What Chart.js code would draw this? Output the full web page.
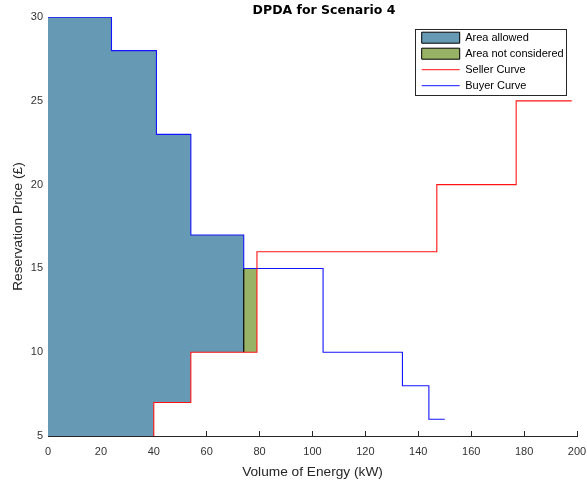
<!DOCTYPE html>
<html><head><meta charset="utf-8">
<script src="https://cdn.jsdelivr.net/npm/chart.js@4.4.1/dist/chart.umd.min.js"></script>
<style>html,body{margin:0;padding:0;background:#fff;}#wrap{position:relative;width:587px;height:485px;}</style>
</head><body><div id="wrap"><canvas id="c" width="587" height="485"></canvas></div>
<script>
// ---- data ----
const buyerVolume  = [0, 24, 41, 54, 74, 104, 134, 144, 150];
const buyerPrice   = [30, 28, 23, 17, 15, 10, 8, 6, 6];
const sellerVolume = [40, 40, 54, 79, 147, 177, 198];
const sellerPrice  = [5, 7, 10, 16, 20, 25, 25];
const allowedRange       = [0, 74];
const notConsideredRange = [74, 79];
const xTickValues = [0, 20, 40, 60, 80, 100, 120, 140, 160, 180, 200];
const yTickValues = [5, 10, 15, 20, 25, 30];
const seriesNames = ['Area allowed', 'Area not considered', 'Seller Curve', 'Buyer Curve'];

const yFloor = yTickValues[0];

function stepValue(xs, ys, x, fallback) {
  let v = fallback;
  for (let i = 0; i < xs.length; i++) if (xs[i] <= x) v = ys[i];
  return v;
}
function regionPolygon(range) {
  const [x0, x1] = range;
  const bp = Array.from(new Set([x0, x1, ...buyerVolume, ...sellerVolume]))
    .filter(v => v >= x0 && v <= x1).sort((a, b) => a - b);
  const pts = [];
  for (let i = 0; i < bp.length - 1; i++) {
    const y = stepValue(buyerVolume, buyerPrice, bp[i], yFloor);
    pts.push({x: bp[i], y}, {x: bp[i + 1], y});
  }
  for (let i = bp.length - 2; i >= 0; i--) {
    const y = stepValue(sellerVolume, sellerPrice, bp[i], yFloor);
    pts.push({x: bp[i + 1], y}, {x: bp[i], y});
  }
  pts.push({...pts[0]});
  return pts;
}
const toPoints = (xs, ys) => xs.map((x, i) => ({x, y: ys[i]}));

const BLUE_FILL = 'rgb(102,153,179)';
const GREEN_FILL = 'rgb(153,179,102)';
const AXIS = '#262626';
const FONT = "'Liberation Sans', Arial, sans-serif";

// only the left (shared) edge of the "not considered" patch shows its black outline
const leftEdgeOnly = ctx =>
  (ctx.p0.parsed.x === notConsideredRange[0] && ctx.p1.parsed.x === notConsideredRange[0]) ? '#000' : 'rgba(0,0,0,0)';

const datasets = [
  { label: seriesNames[0], data: regionPolygon(allowedRange), fill: 'shape',
    backgroundColor: BLUE_FILL, borderColor: '#000', borderWidth: 0, pointRadius: 0, order: 4,
    legendStyle: 'rect' },
  { label: seriesNames[1], data: regionPolygon(notConsideredRange), fill: 'shape',
    backgroundColor: GREEN_FILL, borderColor: '#000', borderWidth: 1.2, pointRadius: 0, order: 3,
    segment: { borderColor: leftEdgeOnly },
    legendStyle: 'rect' },
  { label: seriesNames[2], data: toPoints(sellerVolume, sellerPrice), stepped: 'before', fill: false,
    borderColor: 'rgb(255,20,20)', backgroundColor: 'rgb(255,20,20)', borderWidth: 1.1, pointRadius: 0, order: 1,
    legendStyle: 'line' },
  { label: seriesNames[3], data: toPoints(buyerVolume, buyerPrice), stepped: 'before', fill: false,
    borderColor: 'rgb(20,20,255)', backgroundColor: 'rgb(20,20,255)', borderWidth: 1.1, pointRadius: 0, order: 2,
    legendStyle: 'line' }
];

const layoutTweaks = {
  id: 'layoutTweaks',
  afterLayout(chart) {
    const t = chart.titleBlock;
    if (t) { const w = t.right - t.left; const c = 324; t.left = c - w / 2; t.right = c + w / 2; }
    const lg = chart.legend;
    if (lg) { lg.left = 416.7; lg.top = 27.2; }
  },
  afterDraw(chart) {
    const ctx = chart.ctx;
    ctx.save();
    ctx.strokeStyle = AXIS; ctx.lineWidth = 1;
    ctx.strokeRect(415.5, 29.5, 151, 66);
    ctx.restore();
  }
};

new Chart(document.getElementById('c'), {
  type: 'line',
  data: { datasets },
  plugins: [layoutTweaks],
  options: {
    responsive: false, animation: false, events: [],
    layout: { padding: { left: 0, right: 0, top: 0, bottom: 0 } },
    elements: { line: { tension: 0 } },
    plugins: {
      tooltip: { enabled: false },
      title: { display: true, text: 'DPDA for Scenario 4', color: '#000',
        font: { family: "'DejaVu Sans', sans-serif", size: 12.5, weight: 'bold', lineHeight: 1 },
        padding: { top: 4.6, bottom: 0 } },
      legend: {
        position: 'chartArea', align: 'start',
        labels: {
          usePointStyle: true, pointStyleWidth: 38, boxHeight: 11, padding: 5,
          color: '#000', font: { family: FONT, size: 11 },
          generateLabels(chart) {
            return chart.data.datasets.map((ds, i) => ({
              text: ds.label, fillStyle: ds.legendStyle === 'rect' ? ds.backgroundColor : 'rgba(0,0,0,0)',
              strokeStyle: ds.legendStyle === 'rect' ? '#000' : ds.borderColor, lineWidth: 1, pointStyle: ds.legendStyle,
              datasetIndex: i, hidden: false, fontColor: '#000'
            }));
          }
        }
      }
    },
    scales: {
      x: {
        type: 'linear', min: xTickValues[0], max: xTickValues[xTickValues.length - 1],
        afterBuildTicks(s) { s.ticks = xTickValues.map(v => ({ value: v })); },
        afterFit(s) { s.height = 49; s.paddingLeft = 0; s.paddingRight = 10; },
        grid: { display: true, drawOnChartArea: false, drawTicks: true, tickLength: -5, color: AXIS },
        border: { display: true, color: AXIS, width: 1 },
        ticks: { color: '#333', font: { family: FONT, size: 11 }, padding: 14.7, maxRotation: 0, autoSkip: false },
        title: { display: true, text: 'Volume of Energy (kW)', color: AXIS,
          font: { family: FONT, size: 13.7 }, padding: { top: 0, bottom: 4.8 } }
      },
      y: {
        type: 'linear', min: yTickValues[0], max: yTickValues[yTickValues.length - 1],
        afterBuildTicks(s) { s.ticks = yTickValues.map(v => ({ value: v })); },
        afterFit(s) { s.width = 48; },
        grid: { display: true, drawOnChartArea: false, drawTicks: false, color: AXIS },
        border: { display: true, color: AXIS, width: 1 },
        ticks: { color: '#333', font: { family: FONT, size: 11 }, padding: 5 },
        title: { display: true, text: 'Reservation Price (£)', color: AXIS,
          font: { family: FONT, size: 13.7 }, padding: { top: 9.8, bottom: 0 } }
      }
    }
  }
});
</script></body></html>
